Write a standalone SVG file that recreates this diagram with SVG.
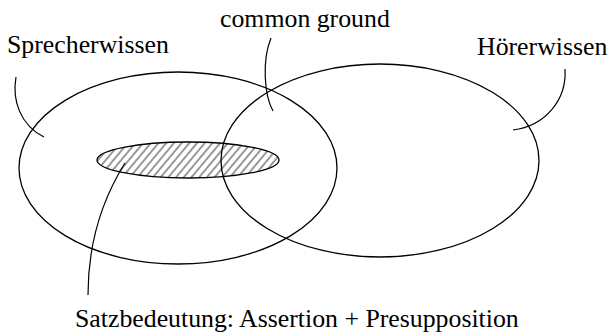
<svg xmlns="http://www.w3.org/2000/svg" width="609" height="332" viewBox="0 0 609 332">
<style>
.set{fill:none;stroke:#000;stroke-width:1.3}
.lbl{font-family:"Liberation Serif","Times New Roman",serif;font-size:25.8px;fill:#000}
.lead{fill:none;stroke:#000;stroke-width:1.2}
</style>
<defs>
<pattern id="hatch" patternUnits="userSpaceOnUse" width="5.9" height="10" patternTransform="rotate(40)">
<line x1="1" y1="0" x2="1" y2="10" stroke="#000" stroke-width="0.8"/>
</pattern>
</defs>
<rect width="609" height="332" fill="#fff"/>
<g id="sprecherwissen">
<ellipse class="set" cx="178" cy="168" rx="159" ry="96"/>
<text class="lbl" x="7" y="53">Sprecherwissen</text>
</g>
<g id="hoererwissen">
<ellipse class="set" cx="380" cy="160.5" rx="159" ry="96.5"/>
<text class="lbl" x="477" y="55">Hörerwissen</text>
</g>
<g id="satzbedeutung">
<ellipse cx="188" cy="160" rx="91" ry="18" fill="url(#hatch)" stroke="#000" stroke-width="1.3"/>
<text class="lbl" x="75" y="327">Satzbedeutung: Assertion + Presupposition</text>
</g>
<g id="common-ground">
<text class="lbl" x="220" y="27">common ground</text>
</g>
<g id="connectors">
<path class="lead" d="M16,77 C12,100 20,125 44,137"/>
<path class="lead" d="M271,38 C262,60 264,95 273,111"/>
<path class="lead" d="M565,69 C567,100 545,126 513,130"/>
<path class="lead" d="M125,163 C105,195 88,240 88,295"/>
</g>
</svg>
